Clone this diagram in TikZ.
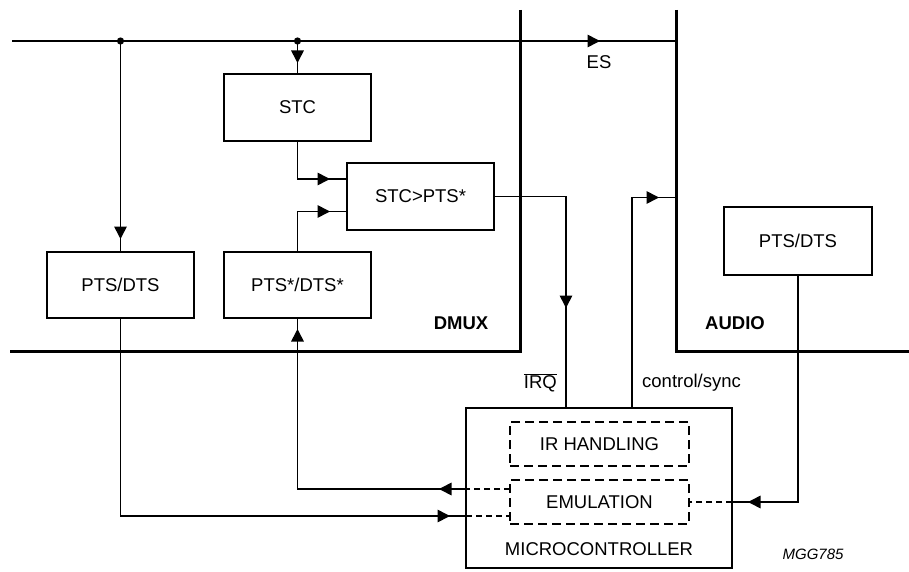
\documentclass[tikz,border=0pt]{standalone}
\usepackage{fontspec}
\setmainfont{Liberation Sans}
\usetikzlibrary{calc, positioning, arrows.meta, decorations.markings}
\tikzset{
	font=\fontsize{18.5pt}{22pt}\selectfont,
	block/.style={
		draw,
		line width=2.3pt,
		inner sep=0pt,
		outer sep=0pt,
		minimum width=147pt,
		minimum height=67pt
	},
	sub block/.style={
		draw,
		line width=2.3pt,
		dash pattern=on 9pt off 5pt,
		inner sep=0pt,
		outer sep=0pt,
		minimum width=179pt,
		minimum height=44pt
	},
	wall/.style={line width=3pt},
	wire/.style={line width=1.3pt},
	dashed wire/.style={line width=1.3pt, dash pattern=on 6pt off 4pt},
	arrow at/.style={
		postaction={decorate, decoration={markings,
			mark=at position #1 with {\arrow[scale=1.25]{Triangle[length=10pt, width=10pt]}}}}
	},
	tag/.style={font=\fontsize{18.5pt}{22pt}\selectfont\bfseries}
}

\begin{document}
\begin{tikzpicture}[x=1pt, y=-1pt]
        \useasboundingbox (0,0) rectangle (909,572);

        \draw[wall] (520,10) -- (520,351.5) -- (10,351.5);
        \draw[wall] (676,10) -- (676,351.5) -- (909,351.5);

        \node[block] (stc) at (297.5,107.5) {STC};
        \node[block, minimum height=66pt] (pts2) [below = 111pt of stc] {PTS*/DTS*};
        \node[block, minimum height=66pt] (pts1) [left = 30pt of pts2] {PTS/DTS};
        \node[block] (cmp) at (420.5,196.5) {STC>PTS*};
        \node[block, minimum width=148pt, minimum height=68pt] (pts3) at (798,241) {PTS/DTS};
        \node[draw, line width=2.3pt, inner sep=0pt, outer sep=0pt,
            minimum width=266pt, minimum height=160pt] (mc) at (599,488) {};
        \node[sub block] (irh) at (599.5,444) {IR HANDLING};
        \node[sub block] (emu) [below = 14pt of irh] {EMULATION};
        \node (mct) at ($(mc.south)+(0,-19)$) {MICROCONTROLLER};

        \node[tag] (dmux) at (461,323) {DMUX};
        \node[tag] (audio) at (735,323) {AUDIO};
        \node (es) at (599,62) {ES};
        \node[anchor=east, inner sep=0pt] (irq) at (557,383) {$\overline{\mbox{IRQ}}$};
        \node[anchor=west, inner sep=0pt] (ctl) at (642,383) {control/sync};
        \node[font=\fontsize{15pt}{18pt}\selectfont\itshape] (mgg) at (813,554) {MGG785};

        \coordinate (es0) at (12,41);
        \coordinate (es1) at (676,41);
        \coordinate (tap1) at (pts1.north |- es0);
        \coordinate (tap2) at (stc.north |- es0);
        \coordinate (aud in) at (676,197.5);
        \coordinate (e1) at ($(emu.west)+(0,-13)$);
        \coordinate (e2) at ($(emu.west)+(0,14)$);

        \draw[wire, arrow at=588pt] (es0) -- (es1);
        \fill (tap1) circle (3.6pt);
        \fill (tap2) circle (3.6pt);
        \draw[wire, arrow at=-13pt] (tap1) -- (pts1.north);
        \draw[wire, arrow at=-11pt] (tap2) -- (stc.north);
        \draw[wire, arrow at=-17pt] (stc.south) |- ($(cmp.west)+(0,-17.5)$);
        \draw[wire, arrow at=-17pt] (pts2.north) |- ($(cmp.west)+(0,15)$);
        \draw[wire, arrow at=-100pt] (cmp.east) -| ($(mc.north)+(-33,0)$);
        \draw[wire, arrow at=-17pt] ($(mc.north)+(33,0)$) |- (aud in);
        \draw[wire, arrow at=-16pt] (pts3.south) |- (mc.east |- emu.east);
        \draw[dashed wire] (mc.east |- emu.east) -- (emu.east);
        \draw[dashed wire] (e1) -- (mc.west |- e1);
        \draw[wire, arrow at=27pt, arrow at=-11pt] (mc.west |- e1) -| (pts2.south);
        \draw[wire, arrow at=-16pt] (pts1.south) |- (mc.west |- e2);
        \draw[dashed wire] (mc.west |- e2) -- (e2);
    \end{tikzpicture}
\end{document}
